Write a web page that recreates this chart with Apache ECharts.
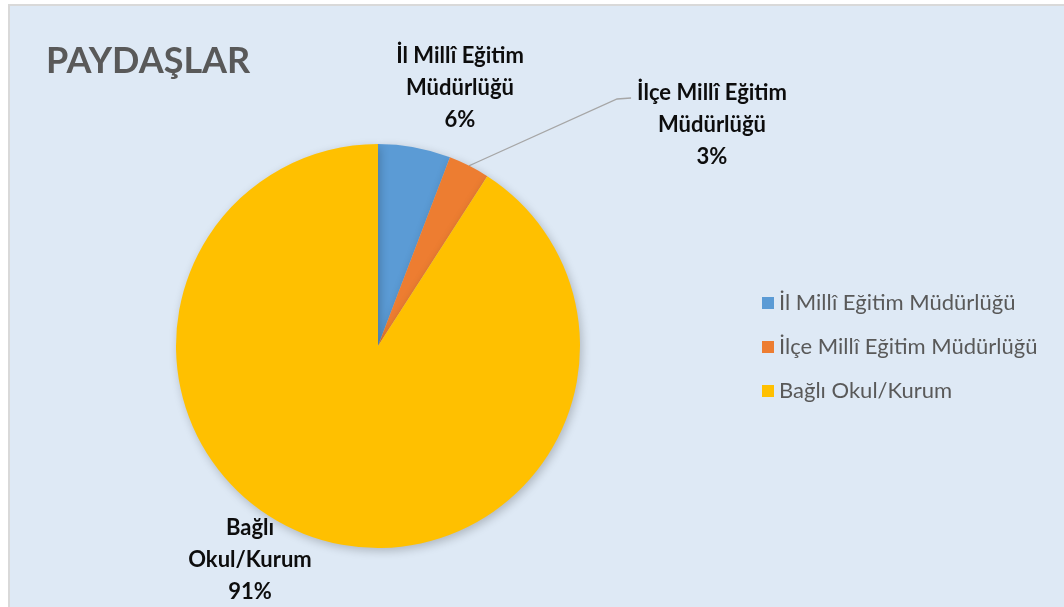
<!DOCTYPE html>
<html>
<head>
<meta charset="utf-8">
<script src="https://cdn.jsdelivr.net/npm/echarts@6/dist/echarts.min.js"></script>
<style>
  html, body { margin: 0; padding: 0; background: #fff; overflow: hidden; }
  #frame {
    position: absolute; left: 8px; top: 4px; width: 1100px; height: 700px;
    border: 2px solid #d9d9d9; background: #dee9f5;
  }
  #main { position: absolute; left: 0; top: 0; width: 1064px; height: 607px; }
</style>
</head>
<body>
<div id="frame"></div>
<div id="main"></div>
<script>
// Paydaşlar pie chart

var categories = ["İl Millî Eğitim Müdürlüğü", "İlçe Millî Eğitim Müdürlüğü", "Bağlı Okul/Kurum"];
var labelNames = ["İl Millî Eğitim\nMüdürlüğü", "İlçe Millî Eğitim\nMüdürlüğü", "Bağlı\nOkul/Kurum"];
var values = [5.8, 3.3, 90.9];
var colors = ["#5b9bd5", "#ed7d31", "#ffc000"];

// where each data label sits (centre of the text block)
var labelSpots = [[460, 88], [712, 125], [250, 560]];

var dom = document.getElementById("main");
var myChart = echarts.init(dom);

var pieData = values.map(function (v, i) {
  return {
    name: categories[i],
    value: v,
    itemStyle: { color: colors[i] },
    labelLine: { show: i === 1 },
  };
});

var option = {
  backgroundColor: "transparent",
  animation: false,
  title: {
    text: "PAYDAŞLAR",
    left: 41,
    top: 38,
    textStyle: {
      fontFamily: "Lato",
      fontWeight: "bold",
      fontSize: 36,
      color: "#595959",
    },
  },
  legend: {
    orient: "vertical",
    left: 757,
    top: 287,
    itemWidth: 12,
    itemHeight: 12,
    itemGap: 22,
    icon: "rect",
    data: categories,
    textStyle: {
      fontFamily: "Lato",
      fontSize: 22,
      lineHeight: 22,
      color: "#595959",
    },
  },
  series: [
    {
      type: "pie",
      center: [378, 346],
      radius: 202,
      startAngle: 90,
      clockwise: true,
      data: pieData,
      itemStyle: {
        borderWidth: 0,
        shadowBlur: 10,
        shadowColor: "rgba(0,0,0,0.22)",
        shadowOffsetX: 2,
        shadowOffsetY: 3,
      },
      label: {
        show: true,
        position: "outside",
        formatter: function (p) {
          return labelNames[p.dataIndex] + "\n" + Math.round(p.percent) + "%";
        },
        fontFamily: "Lato",
        fontWeight: "bold",
        fontSize: 22,
        lineHeight: 32,
        color: "#0d0d0d",
        align: "center",
      },
      labelLine: {
        lineStyle: { color: "#a6a6a6", width: 1.3 },
      },
      labelLayout: function (params) {
        var s = labelSpots[params.dataIndex];
        var out = { x: s[0], y: s[1], align: "center", verticalAlign: "middle" };
        if (params.dataIndex === 1 && params.labelLinePoints) {
          var start = params.labelLinePoints[0];
          var w = params.labelRect.width;
          var h = params.labelRect.height;
          var endX = s[0] - w / 2 - 6;
          var endY = s[1] - h / 2 + 21;
          out.labelLinePoints = [start, [endX - 14, endY + 1], [endX, endY]];
        }
        return out;
      },
    },
  ],
};

if (option && typeof option === "object") {
  myChart.setOption(option);
}
</script>
</body>
</html>
